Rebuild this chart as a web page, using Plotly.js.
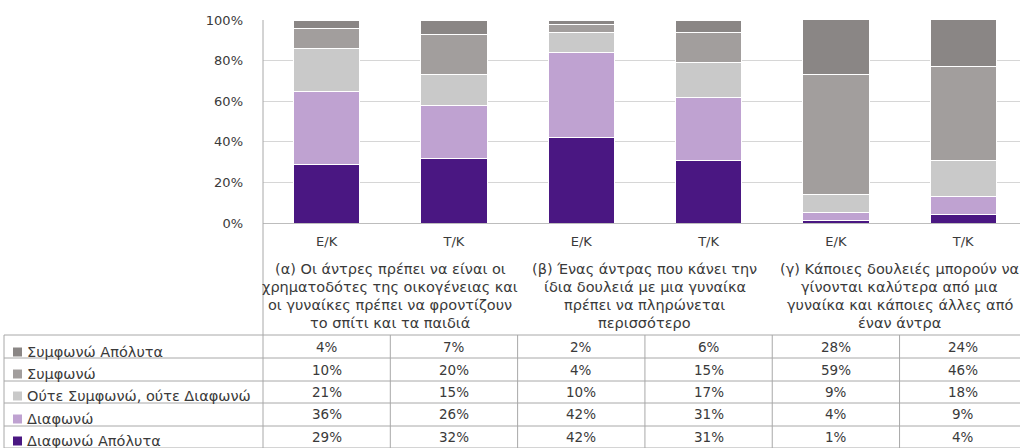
<!DOCTYPE html>
<html>
<head>
<meta charset="utf-8">
<script src="https://cdn.plot.ly/plotly-3.0.1.min.js"></script>
<style>html,body{margin:0;padding:0;background:#fff;}#chart{width:1020px;height:448px;}</style>
</head>
<body>
<div id="chart"></div>
<script>
// ---- data ----
const barLabels = ["E/K", "T/K", "E/K", "T/K", "E/K", "T/K"];
const groupLines = [
  ["(α) Οι άντρες πρέπει να είναι οι", "χρηματοδότες της οικογένειας και", "οι γυναίκες πρέπει να φροντίζουν", "το σπίτι και τα παιδιά"],
  ["(β) Ένας άντρας που κάνει την", "ίδια δουλειά με μια γυναίκα", "πρέπει να πληρώνεται", "περισσότερο"],
  ["(γ) Κάποιες δουλειές μπορούν να", "γίνονται καλύτερα από μια", "γυναίκα και κάποιες άλλες από", "έναν άντρα"]
];
const seriesNames = ["Συμφωνώ Απόλυτα", "Συμφωνώ", "Ούτε Συμφωνώ, ούτε Διαφωνώ", "Διαφωνώ", "Διαφωνώ Απόλυτα"];
const agreeFully    = [4, 7, 2, 6, 28, 24];
const agree         = [10, 20, 4, 15, 59, 46];
const neither       = [21, 15, 10, 17, 9, 18];
const disagree      = [36, 26, 42, 31, 4, 9];
const disagreeFully = [29, 32, 42, 31, 1, 4];
const yTicks = [0, 20, 40, 60, 80, 100];

// ---- styling ----
const seriesValues = [agreeFully, agree, neither, disagree, disagreeFully];
const colors = ["#8a8685", "#a29e9d", "#c9c9c9", "#bfa2d1", "#4a1782"];
const font = "DejaVu Sans, Verdana, sans-serif";
const textColor = "#3a3a3a";
const lineColor = "#a8a8a8";

const L = 263, R = 1020, T = 20, B = 223, W = 1020, H = 448;
const xp = px => (px - L) / (R - L);
const yp = py => (B - py) / (B - T);

const xIdx = barLabels.map((_, i) => i);

// traces stacked bottom -> top
const traces = [];
for (let s = seriesValues.length - 1; s >= 0; s--) {
  traces.push({
    type: "bar",
    x: xIdx,
    y: seriesValues[s],
    name: seriesNames[s],
    marker: {color: colors[s], line: {color: "#ffffff", width: 1}},
    hoverinfo: "skip",
    showlegend: false
  });
}

const shapes = [];
const annotations = [];

// table geometry
const rowLines = [335, 358, 381, 403, 426, 448];
const valueRowY = [347, 370, 392, 414, 437];
const labelRowY = [352, 374, 396, 419, 441];
const colW = (R - L) / 5.946;

rowLines.forEach(py => {
  shapes.push({type: "line", xref: "paper", yref: "paper", x0: xp(4), x1: xp(1020), y0: yp(py), y1: yp(py),
    line: {color: lineColor, width: 1}});
});
// left border of legend column
shapes.push({type: "line", xref: "paper", yref: "paper", x0: xp(4), x1: xp(4), y0: yp(335), y1: yp(448),
  line: {color: lineColor, width: 1}});
// left axis line extending down the table
shapes.push({type: "line", xref: "paper", yref: "paper", x0: 0, x1: 0, y0: 1, y1: yp(448),
  line: {color: lineColor, width: 1}});
// column separators in the table
for (let k = 1; k < 6; k++) {
  const px = L + k * colW;
  shapes.push({type: "line", xref: "paper", yref: "paper", x0: xp(px), x1: xp(px), y0: yp(335), y1: yp(448),
    line: {color: lineColor, width: 1}});
}

// legend labels with swatches
seriesNames.forEach((nm, r) => {
  const cy = labelRowY[r];
  shapes.push({type: "rect", xref: "paper", yref: "paper", x0: xp(13), x1: xp(22), y0: yp(cy + 4.5), y1: yp(cy - 4.5),
    fillcolor: colors[r], line: {width: 0}});
  annotations.push({xref: "paper", yref: "paper", x: xp(25), y: yp(cy), xanchor: "left", yanchor: "middle",
    text: nm, showarrow: false, font: {family: font, size: 14.5, color: textColor}});
});

// table values
seriesValues.forEach((vals, r) => {
  vals.forEach((v, c) => {
    annotations.push({xref: "x", yref: "paper", x: c, y: yp(valueRowY[r]), xanchor: "center", yanchor: "middle",
      text: v + "%", showarrow: false, font: {family: font, size: 13.5, color: textColor}});
  });
});

// group labels
const groupLineY = [269, 287, 305, 323];
groupLines.forEach((lines, g) => {
  lines.forEach((t, j) => {
    annotations.push({xref: "x", yref: "paper", x: 2 * g + 0.5, y: yp(groupLineY[j]), xanchor: "center", yanchor: "middle",
      text: t, showarrow: false, font: {family: font, size: 14.5, color: textColor}});
  });
});

const layout = {
  width: W, height: H,
  margin: {l: L, r: W - R, t: T, b: H - B, pad: 0},
  paper_bgcolor: "#ffffff", plot_bgcolor: "#ffffff",
  barmode: "stack", bargap: 0.48,
  xaxis: {
    range: [-0.5, 5.446], tickvals: xIdx, ticktext: barLabels, showgrid: false, zeroline: false,
    showline: true, linecolor: "#bdbdbd", linewidth: 1, ticks: "", ticklabelstandoff: 6,
    tickfont: {family: font, size: 13, color: textColor}, fixedrange: true
  },
  yaxis: {
    range: [0, 100], tickvals: yTicks, ticktext: yTicks.map(v => v + "%"), showgrid: true, gridcolor: "#d6d6d6",
    gridwidth: 1, zeroline: false, showline: false, ticks: "", ticklabelstandoff: 19,
    tickfont: {family: font, size: 13, color: textColor}, fixedrange: true
  },
  shapes: shapes,
  annotations: annotations,
  font: {family: font, color: textColor}
};

Plotly.newPlot("chart", traces, layout, {displayModeBar: false, staticPlot: true});
</script>
</body>
</html>
